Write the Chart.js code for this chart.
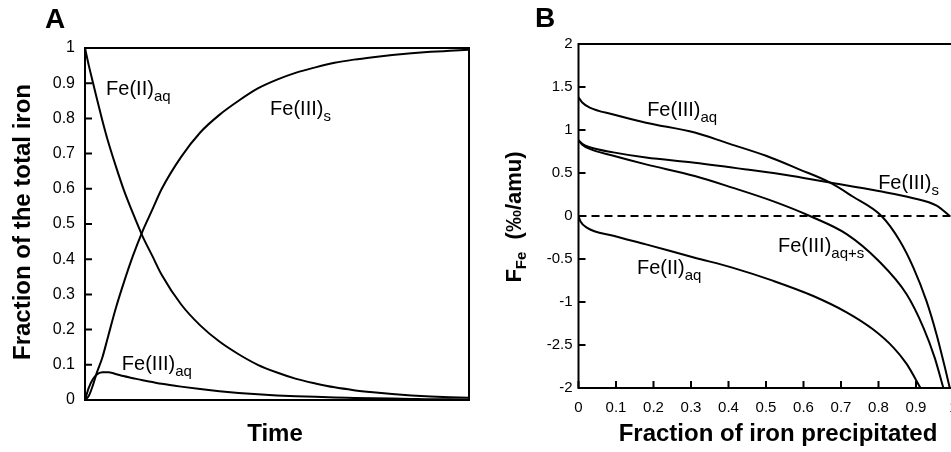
<!DOCTYPE html>
<html>
<head>
<meta charset="utf-8">
<script src="https://cdn.jsdelivr.net/npm/chart.js@4.4.0/dist/chart.umd.min.js"></script>
<style>
html, body { margin: 0; padding: 0; background: #fff; overflow: hidden; }
.panel { position: absolute; top: 0; width: 480px; height: 452px; }
#panelA { left: 0; }
#panelB { left: 480px; }
</style>
</head>
<body>
<div class="panel" id="panelA"><canvas id="chartA" width="480" height="452"></canvas></div>
<div class="panel" id="panelB"><canvas id="chartB" width="480" height="452"></canvas></div>
<script>
// A: speciation vs (normalised) time
const timeA  = [0, 0.01, 0.02, 0.03, 0.045, 0.06, 0.08, 0.1, 0.125, 0.15, 0.175, 0.2, 0.25, 0.3, 0.35, 0.4, 0.45, 0.5, 0.55, 0.6, 0.65, 0.7, 0.75, 0.8, 0.85, 0.9, 0.95, 1.0];
const fe2aqA = [1.0, 0.95, 0.905, 0.86, 0.795, 0.735, 0.665, 0.6, 0.53, 0.465, 0.41, 0.355, 0.272, 0.212, 0.166, 0.13, 0.1, 0.078, 0.06, 0.047, 0.036, 0.028, 0.022, 0.017, 0.013, 0.01, 0.008, 0.006];
const fe3aqA = [0, 0.035, 0.058, 0.072, 0.079, 0.079, 0.074, 0.068, 0.062, 0.056, 0.051, 0.046, 0.038, 0.031, 0.025, 0.02, 0.016, 0.013, 0.011, 0.009, 0.007, 0.006, 0.005, 0.004, 0.003, 0.002, 0.002, 0.001];
const fe3sA  = [0, 0.012, 0.04, 0.075, 0.12, 0.18, 0.26, 0.33, 0.41, 0.48, 0.54, 0.6, 0.69, 0.76, 0.81, 0.85, 0.885, 0.91, 0.93, 0.945, 0.958, 0.967, 0.974, 0.98, 0.985, 0.989, 0.992, 0.995];
const yTicksA = ['0', '0.1', '0.2', '0.3', '0.4', '0.5', '0.6', '0.7', '0.8', '0.9', '1'];

// B: fractionation vs fraction of iron precipitated
const fe3aqX = [0, 0.01, 0.03, 0.093, 0.18, 0.31, 0.395, 0.5, 0.59, 0.67, 0.73, 0.808, 0.857, 0.893, 0.928, 0.955, 0.977, 0.99];
const fe3aqB = [1.38, 1.32, 1.26, 1.18, 1.085, 0.97, 0.85, 0.7, 0.54, 0.39, 0.23, 0.0, -0.29, -0.6, -0.99, -1.38, -1.76, -2.0];
const fe3sX  = [0, 0.01, 0.03, 0.093, 0.18, 0.31, 0.45, 0.57, 0.67, 0.8, 0.89, 0.955, 0.99];
const fe3sB  = [0.88, 0.84, 0.8, 0.74, 0.68, 0.62, 0.54, 0.465, 0.39, 0.29, 0.21, 0.12, 0.0];
const fe3totX = [0, 0.01, 0.03, 0.093, 0.18, 0.31, 0.41, 0.52, 0.617, 0.715, 0.8, 0.875, 0.92, 0.95, 0.973];
const fe3totB = [0.88, 0.83, 0.78, 0.7, 0.6, 0.465, 0.33, 0.17, 0.0, -0.21, -0.52, -0.91, -1.3, -1.65, -2.0];
const fe2aqX = [0, 0.005, 0.022, 0.093, 0.18, 0.31, 0.41, 0.52, 0.626, 0.715, 0.786, 0.84, 0.875, 0.912];
const fe2aqB = [0, -0.06, -0.135, -0.23, -0.33, -0.485, -0.6, -0.755, -0.93, -1.12, -1.32, -1.53, -1.72, -2.0];
const xTicksB = ['0', '0.1', '0.2', '0.3', '0.4', '0.5', '0.6', '0.7', '0.8', '0.9', '1'];
const yTicksB = ['-2', '-2.5', '-1', '-0.5', '0', '0.5', '1', '1.5', '2'];

const FONT = '"Liberation Sans", Arial, Helvetica, sans-serif';

function pts(xs, ys) {
  return xs.map((x, i) => ({ x: x, y: ys[i] }));
}

function curve(data, extra) {
  return Object.assign({
    data: data,
    borderColor: '#000',
    borderWidth: 2,
    pointRadius: 0,
    fill: false,
    cubicInterpolationMode: 'monotone'
  }, extra || {});
}

// scales keep a fixed size and no overhang padding for edge labels
function fixSize(prop, size) {
  return s => {
    s[prop] = size;
    s.paddingLeft = 0; s.paddingRight = 0;
    s.paddingTop = 0; s.paddingBottom = 0;
  };
}

// text with an optional subscript, left aligned on the baseline
function subText(ctx, x, y, main, sub, size, subSize, weight) {
  ctx.font = weight + ' ' + size + 'px ' + FONT;
  ctx.fillText(main, x, y);
  if (!sub) return;
  const w = ctx.measureText(main).width;
  ctx.font = weight + ' ' + subSize + 'px ' + FONT;
  ctx.fillText(sub, x + w, y + Math.round(subSize * 0.4));
}

const decor = {
  id: 'decor',
  afterDatasetsDraw(chart, args, o) {
    const ctx = chart.ctx, a = chart.chartArea;
    const xs = chart.scales.x, ys = chart.scales.y;
    ctx.save();
    ctx.strokeStyle = '#000';
    ctx.lineWidth = 2;
    ctx.strokeRect(a.left, a.top, a.right - a.left, a.bottom - a.top);

    // inward tick marks
    ctx.beginPath();
    ys.ticks.forEach(t => {
      const py = ys.getPixelForValue(t.value);
      ctx.moveTo(a.left, py);
      ctx.lineTo(a.left + 7, py);
    });
    if (o.xTicks) {
      xs.ticks.forEach(t => {
        const px = xs.getPixelForValue(t.value);
        ctx.moveTo(px, a.bottom);
        ctx.lineTo(px, a.bottom - 7);
      });
    }
    ctx.stroke();

    ctx.fillStyle = '#000';
    ctx.textAlign = 'left';
    ctx.textBaseline = 'alphabetic';
    o.labels.forEach(l => {
      subText(ctx, xs.getPixelForValue(l.x), ys.getPixelForValue(l.y), l.main, l.sub, 20, 15, 'normal');
    });

    // panel letter
    ctx.font = 'bold 28px ' + FONT;
    ctx.fillText(o.letter, o.letterAt[0], o.letterAt[1]);

    // x axis title
    ctx.textAlign = 'center';
    ctx.font = 'bold 24px ' + FONT;
    ctx.fillText(o.xTitle, o.xTitleAt[0], o.xTitleAt[1]);

    // y axis title, rotated, built from parts so the subscript works
    ctx.textAlign = 'left';
    let total = 0;
    o.yTitle.forEach(p => {
      ctx.font = 'bold ' + p.size + 'px ' + FONT;
      p.w = ctx.measureText(p.t).width;
      total += p.w;
    });
    ctx.translate(o.yTitleAt[0], o.yTitleAt[1]);
    ctx.rotate(-Math.PI / 2);
    let cx = -total / 2;
    o.yTitle.forEach(p => {
      ctx.font = 'bold ' + p.size + 'px ' + FONT;
      ctx.fillText(p.t, cx, 8 + (p.dy || 0));
      cx += p.w;
    });
    ctx.restore();
  }
};

new Chart(document.getElementById('chartA'), {
  type: 'line',
  data: {
    datasets: [
      curve(pts(timeA, fe2aqA)),
      curve(pts(timeA, fe3sA)),
      curve(pts(timeA, fe3aqA))
    ]
  },
  options: {
    responsive: false,
    animation: false,
    devicePixelRatio: 1,
    layout: { padding: { top: 48, right: 11, left: 0, bottom: 0 } },
    plugins: {
      legend: { display: false },
      tooltip: { enabled: false },
      decor: {
        letter: 'A',
        letterAt: [45, 28],
        xTitle: 'Time',
        xTitleAt: [275, 441],
        yTitle: [{ t: 'Fraction of the total iron', size: 24 }],
        yTitleAt: [22, 222],
        xTicks: false,
        labels: [
          { x: 0.055, y: 0.866, main: 'Fe(II)', sub: 'aq' },
          { x: 0.482, y: 0.81, main: 'Fe(III)', sub: 's' },
          { x: 0.096, y: 0.085, main: 'Fe(III)', sub: 'aq' }
        ]
      }
    },
    scales: {
      x: {
        type: 'linear', min: 0, max: 1,
        grid: { display: false, drawTicks: false },
        border: { display: false },
        ticks: { display: false },
        afterFit: fixSize('height', 52)
      },
      y: {
        type: 'linear', min: 0, max: 1,
        grid: { display: false, drawTicks: false },
        border: { display: false },
        ticks: {
          stepSize: 0.1,
          padding: 10,
          color: '#000',
          font: { family: FONT, size: 16 },
          callback: (v, i) => yTicksA[i]
        },
        afterFit: fixSize('width', 85)
      }
    }
  },
  plugins: [decor]
});

new Chart(document.getElementById('chartB'), {
  type: 'line',
  data: {
    datasets: [
      curve([{ x: 0, y: 0 }, { x: 1, y: 0 }], { borderDash: [8, 5], cubicInterpolationMode: 'default' }),
      curve(pts(fe3aqX, fe3aqB)),
      curve(pts(fe3sX, fe3sB)),
      curve(pts(fe3totX, fe3totB)),
      curve(pts(fe2aqX, fe2aqB))
    ]
  },
  options: {
    responsive: false,
    animation: false,
    devicePixelRatio: 1,
    layout: { padding: { top: 44, right: 6.5, left: 0, bottom: 0 } },
    plugins: {
      legend: { display: false },
      tooltip: { enabled: false },
      decor: {
        letter: 'B',
        letterAt: [55, 27],
        xTitle: 'Fraction of iron precipitated',
        xTitleAt: [298, 441],
        yTitle: [
          { t: 'F', size: 22 },
          { t: 'Fe', size: 15, dy: 5 },
          { t: '  (‰/amu)', size: 22 }
        ],
        yTitleAt: [33, 217],
        xTicks: true,
        labels: [
          { x: 0.183, y: 1.163, main: 'Fe(III)', sub: 'aq' },
          { x: 0.799, y: 0.314, main: 'Fe(III)', sub: 's' },
          { x: 0.532, y: -0.419, main: 'Fe(III)', sub: 'aq+s' },
          { x: 0.156, y: -0.674, main: 'Fe(II)', sub: 'aq' }
        ]
      }
    },
    scales: {
      x: {
        type: 'linear', min: 0, max: 1,
        grid: { display: false, drawTicks: false },
        border: { display: false },
        ticks: {
          stepSize: 0.1,
          padding: 11,
          maxRotation: 0,
          autoSkip: false,
          color: '#000',
          font: { family: FONT, size: 15 },
          callback: (v, i) => xTicksB[i]
        },
        afterFit: fixSize('height', 64)
      },
      y: {
        type: 'linear', min: -2, max: 2,
        grid: { display: false, drawTicks: false },
        border: { display: false },
        ticks: {
          stepSize: 0.5,
          padding: 6,
          color: '#000',
          font: { family: FONT, size: 15 },
          callback: (v, i) => yTicksB[i]
        },
        afterFit: fixSize('width', 98.5)
      }
    }
  },
  plugins: [decor]
});
</script>
</body>
</html>
